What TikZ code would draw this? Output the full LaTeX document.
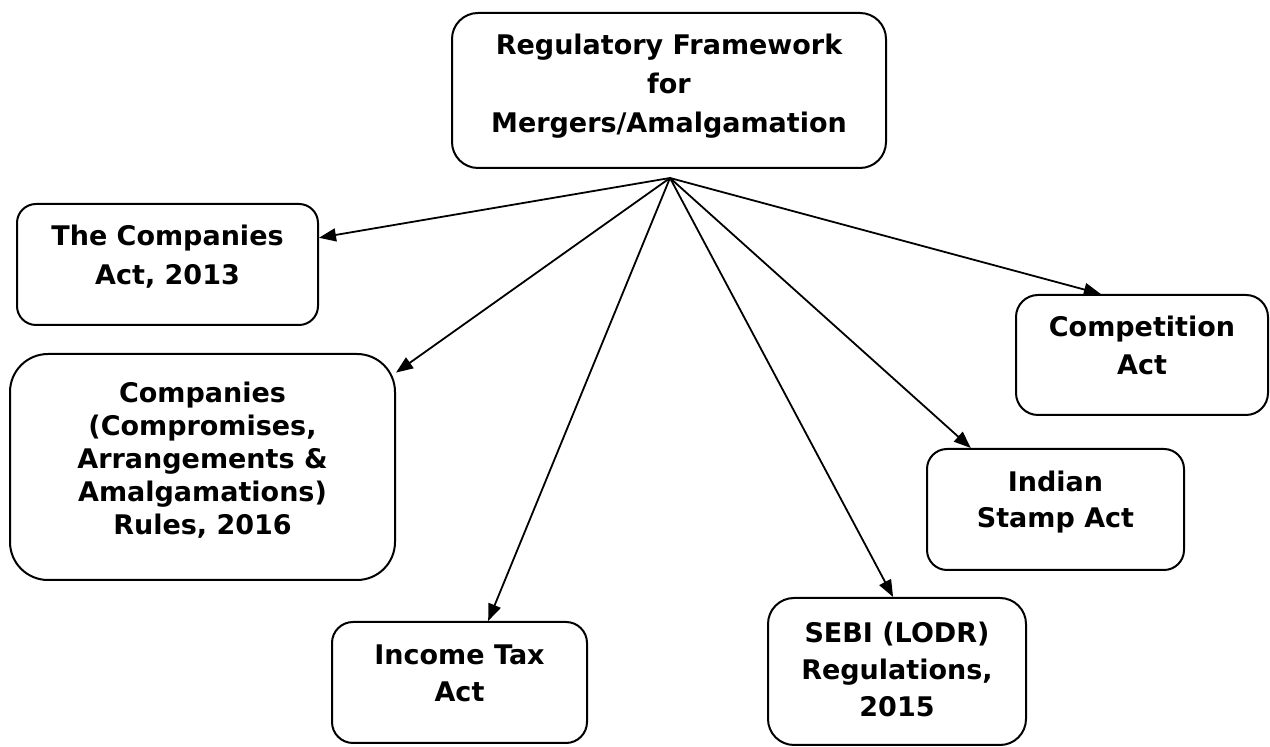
\documentclass[tikz,border=0pt]{standalone}
\usepackage{fontspec}
\setmainfont{DejaVu Sans}
\usetikzlibrary{arrows.meta}
\tikzset{
  boxnode/.style={draw=black, line width=1pt, inner sep=0pt, fill=white},
  txt/.style={anchor=base, align=center, inner sep=0pt, font=\bfseries\fontsize{13.5}{#1}\selectfont},
  conn/.style={line width=0.9pt, -{Triangle[length=8.5pt,width=6.5pt]}}
}
\begin{document}
\begin{tikzpicture}[x=0.5pt,y=-0.5pt]
\useasboundingbox[fill=white] (0,0) rectangle (1270,747);
% boxes
\node[boxnode, rounded corners=13pt, minimum width=217pt, minimum height=77.5pt] (b0) at (669,90.5) {};
\node[boxnode, rounded corners=9.5pt, minimum width=150.5pt, minimum height=60.5pt] (b1) at (167.5,264.5) {};
\node[boxnode, rounded corners=19pt, minimum width=192.5pt, minimum height=113pt] (b2) at (202.5,467) {};
\node[boxnode, rounded corners=10.5pt, minimum width=127.5pt, minimum height=60.5pt] (b3) at (459.5,682.5) {};
\node[boxnode, rounded corners=13pt, minimum width=129pt, minimum height=73.5pt] (b4) at (897,671.5) {};
\node[boxnode, rounded corners=10pt, minimum width=128.5pt, minimum height=60.5pt] (b5) at (1055.5,509.5) {};
\node[boxnode, rounded corners=11pt, minimum width=126pt, minimum height=60pt] (b6) at (1142,355) {};
% texts (anchored at the baseline of the last line)
\node[txt=19.5] (t0) at (669,133) {Regulatory Framework\\for\\Mergers/Amalgamation};
\node[txt=19.5] (t1) at (167.5,285) {The Companies\\Act, 2013};
\node[txt=16.5] (t2) at (202.5,535) {Companies\\(Compromises,\\Arrangements \&\\Amalgamations)\\Rules, 2016};
\node[txt=18.5] (t3) at (459.5,702) {Income Tax\\Act};
\node[txt=18.5] (t4) at (897,717) {SEBI (LODR)\\Regulations,\\2015};
\node[txt=18] (t5) at (1055.5,528) {Indian\\Stamp Act};
\node[txt=19] (t6) at (1142,375) {Competition\\Act};
% connectors
\coordinate (o) at (670,178);
\draw[conn] (o) -- (b1.10);
\draw[conn] (o) -- (b2.26);
\draw[conn] (o) -- (b3.65.5);
\draw[conn] (o) -- (b4.93);
\draw[conn] (o) -- (b5.144);
\draw[conn] (o) -- (b6.124);
\end{tikzpicture}
\end{document}
